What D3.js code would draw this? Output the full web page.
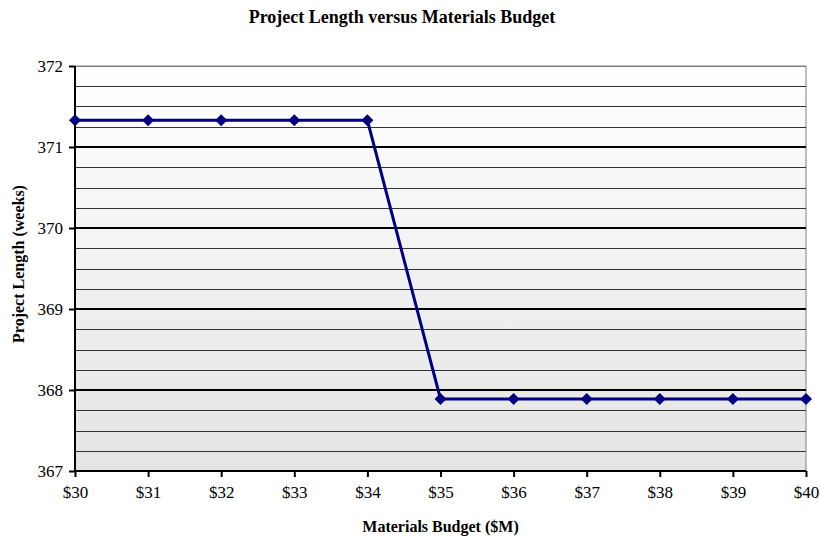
<!DOCTYPE html>
<html>
<head>
<meta charset="utf-8">
<script src="https://cdn.jsdelivr.net/npm/d3@7"></script>
<style>
  body { margin: 0; background: #fff; }
  svg text { font-family: 'Liberation Serif', 'Times New Roman', Times, serif; fill: #000; }
</style>
</head>
<body>
<svg id="chart" width="820" height="539"></svg>
<script>
// data
var budgets = [30, 31, 32, 33, 34, 35, 36, 37, 38, 39, 40];
var weeks = [371.33, 371.33, 371.33, 371.33, 371.33, 367.89, 367.89, 367.89, 367.89, 367.89, 367.89];
var yTicks = [367, 368, 369, 370, 371, 372];

var svg = d3.select("#chart"),
    margin = {top: 66, right: 14, bottom: 68, left: 75},
    width = +svg.attr("width") - margin.left - margin.right,
    height = +svg.attr("height") - margin.top - margin.bottom;

var serif = "'Liberation Serif', 'Times New Roman', Times, serif";

var defs = svg.append("defs");
var grad = defs.append("linearGradient")
    .attr("id", "bg")
    .attr("x1", 0).attr("y1", 0).attr("x2", 0).attr("y2", 1);
grad.append("stop").attr("offset", "0%").attr("stop-color", "#ffffff");
grad.append("stop").attr("offset", "100%").attr("stop-color", "#e4e4e4");

var g = svg.append("g")
    .attr("transform", "translate(" + margin.left + "," + margin.top + ")");

var x = d3.scaleLinear().domain([30, 40]).range([0, width]);
var y = d3.scaleLinear().domain([367, 372]).range([height, 0]);

// plot background
g.append("rect")
    .attr("width", width)
    .attr("height", height)
    .attr("fill", "url(#bg)")
    .attr("stroke", "#808080")
    .attr("stroke-width", 1);

// minor gridlines
var minor = d3.range(367.25, 372, 0.25).filter(v => Math.abs(v - Math.round(v)) > 0.01);
g.selectAll(".minor")
    .data(minor)
    .enter()
    .append("line")
    .attr("x1", 0).attr("x2", width)
    .attr("y1", d => Math.round(y(d)) + 0.5)
    .attr("y2", d => Math.round(y(d)) + 0.5)
    .attr("stroke", "#333")
    .attr("stroke-width", 1);

// major gridlines
g.selectAll(".major")
    .data(yTicks.filter(v => v > 367 && v < 372))
    .enter()
    .append("line")
    .attr("x1", 0).attr("x2", width)
    .attr("y1", d => y(d))
    .attr("y2", d => y(d))
    .attr("stroke", "#000")
    .attr("stroke-width", 2);

// top line
g.append("line")
    .attr("x1", 0).attr("x2", width)
    .attr("y1", 0.5).attr("y2", 0.5)
    .attr("stroke", "#808080");

// axes
var xAxis = g.append("g")
    .attr("transform", "translate(0," + height + ")")
    .call(d3.axisBottom(x).tickValues(budgets).tickSize(6).tickPadding(9).tickFormat(d => "$" + d));
var yAxis = g.append("g")
    .call(d3.axisLeft(y).tickValues(yTicks).tickSize(6).tickPadding(6).tickFormat(d3.format("d")));

[xAxis, yAxis].forEach(function(a) {
    a.attr("font-family", serif).attr("font-size", 17);
    a.select(".domain").attr("stroke", "#000").attr("stroke-width", 2);
    a.selectAll(".tick line").attr("stroke", "#000").attr("stroke-width", 2);
    a.selectAll("text")
        .style("font-family", serif)
        .style("font-size", "17px")
        .attr("fill", "#000");
});
xAxis.select(".domain").attr("d", "M0,0H" + width);
yAxis.select(".domain").attr("d", "M0," + height + "V0");

// line
var line = d3.line()
    .x((d, i) => x(budgets[i]))
    .y(d => y(d));

g.append("path")
    .datum(weeks)
    .attr("d", line)
    .attr("fill", "none")
    .attr("stroke", "#000080")
    .attr("stroke-width", 3);

// diamond markers
g.selectAll(".pt")
    .data(weeks)
    .enter()
    .append("path")
    .attr("transform", (d, i) => "translate(" + x(budgets[i]) + "," + y(d) + ")")
    .attr("d", "M0,-6L6,0L0,6L-6,0Z")
    .attr("fill", "#000080");

// titles
svg.append("text")
    .attr("x", 402)
    .attr("y", 23)
    .style("font-family", serif)
    .style("text-anchor", "middle")
    .style("font-size", "18px")
    .style("font-weight", "bold")
    .text("Project Length versus Materials Budget");

svg.append("text")
    .attr("x", margin.left + width / 2)
    .attr("y", 532)
    .style("font-family", serif)
    .style("text-anchor", "middle")
    .style("font-size", "16px")
    .style("font-weight", "bold")
    .text("Materials Budget ($M)");

svg.append("text")
    .attr("transform", "rotate(-90)")
    .attr("x", -264)
    .attr("y", 24)
    .style("font-family", serif)
    .style("text-anchor", "middle")
    .style("font-size", "16px")
    .style("font-weight", "bold")
    .text("Project Length (weeks)");
</script>
</body>
</html>
